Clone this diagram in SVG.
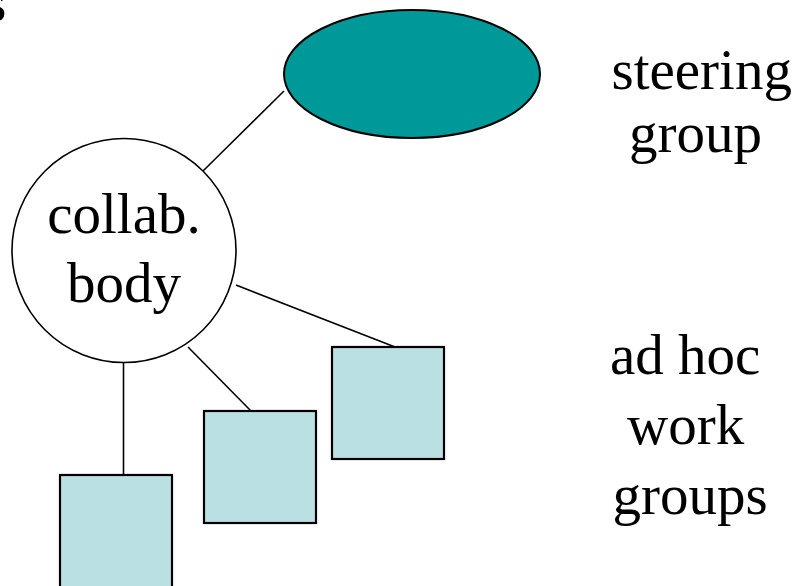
<svg xmlns="http://www.w3.org/2000/svg" width="807" height="586" viewBox="0 0 807 586">
  <style>
    .label { font-family: "Liberation Serif", "Times New Roman", serif; font-size: 57px; fill: #000; }
    .link { stroke: #000; stroke-width: 1.6; fill: none; }
    .team { fill: #BBE0E3; stroke: #000; stroke-width: 2.2; }
  </style>
  <rect width="807" height="586" fill="#fff"/>

  <!-- tail of a heading that runs off the top edge -->
  <text class="label" x="6.5" y="21" text-anchor="end">s</text>

  <!-- connectors -->
  <g id="connectors">
    <line class="link" x1="203" y1="171" x2="284" y2="91"/>
    <line class="link" x1="236" y1="285" x2="395" y2="347"/>
    <line class="link" x1="188" y1="347" x2="251" y2="411"/>
    <line class="link" x1="123.5" y1="362" x2="123.5" y2="475"/>
  </g>

  <g id="steering-group">
    <ellipse cx="412" cy="74" rx="128" ry="64" fill="#009999" stroke="#000" stroke-width="2"/>
  </g>

  <g id="collab-body">
    <circle cx="124" cy="250.5" r="112" fill="#fff" stroke="#000" stroke-width="1.6"/>
    <text class="label" x="124" y="233" text-anchor="middle">collab.</text>
    <text class="label" x="124" y="302" text-anchor="middle">body</text>
  </g>

  <g id="work-group-1">
    <rect class="team" x="60" y="475" width="112" height="120"/>
  </g>
  <g id="work-group-2">
    <rect class="team" x="204" y="411" width="112" height="112"/>
  </g>
  <g id="work-group-3">
    <rect class="team" x="332" y="347" width="112" height="112"/>
  </g>

  <g id="steering-label">
    <text class="label" x="611.5" y="88.5">steering</text>
    <text class="label" x="629" y="152">group</text>
  </g>

  <g id="work-groups-label">
    <text class="label" x="610" y="373.5">ad hoc</text>
    <text class="label" x="627" y="443.5">work</text>
    <text class="label" x="612.5" y="513.5">groups</text>
  </g>
</svg>
